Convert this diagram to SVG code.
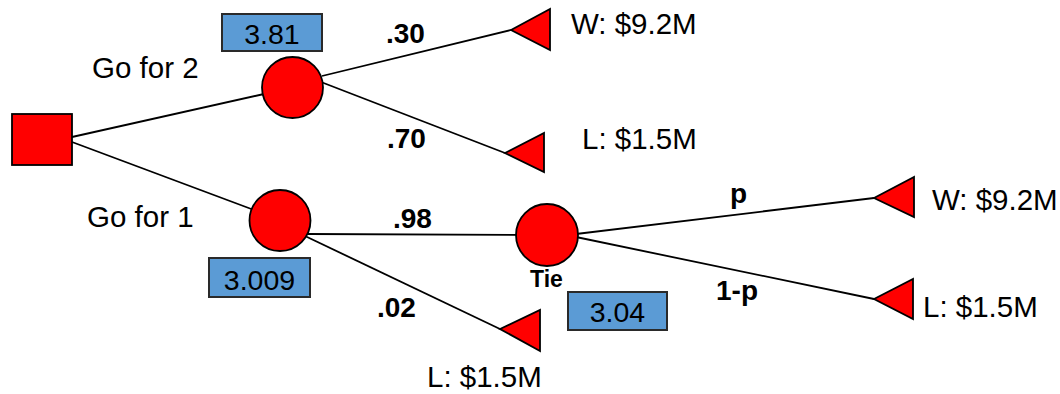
<svg xmlns="http://www.w3.org/2000/svg" width="1060" height="394" viewBox="0 0 1060 394">
<style>
.edge{stroke:#000;stroke-width:1.8;fill:none}
.node{fill:#ff0000;stroke:#000;stroke-width:1.8}
.val{fill:#5b9bd5;stroke:#2a2a2a;stroke-width:2}
.t{font-family:"Liberation Sans",Arial,sans-serif;font-size:29.5px;fill:#000}
.b{font-family:"Liberation Sans",Arial,sans-serif;font-size:28px;font-weight:bold;fill:#000}
.v{font-family:"Liberation Sans",Arial,sans-serif;font-size:28.5px;fill:#000;text-anchor:middle}
</style>
<rect width="1060" height="394" fill="#fff"/>
<g id="connectors">
<line class="edge" x1="72" y1="137" x2="264" y2="94"/>
<line class="edge" x1="72" y1="142" x2="254" y2="210"/>
<line class="edge" x1="322" y1="76" x2="511" y2="30"/>
<line class="edge" x1="321" y1="82" x2="505" y2="153"/>
<line class="edge" x1="308" y1="234" x2="547" y2="235"/>
<line class="edge" x1="305" y1="236" x2="500" y2="329"/>
<line class="edge" x1="576" y1="234" x2="874" y2="198"/>
<line class="edge" x1="576" y1="237" x2="874" y2="299"/>
</g>
<g id="decision">
<rect class="node" x="12" y="114" width="60" height="51"/>
</g>
<g id="chance-go2">
<circle class="node" cx="292.5" cy="87.5" r="30.5"/>
<rect class="val" x="222" y="14" width="100" height="37"/>
<text class="v" x="272" y="44">3.81</text>
<text class="t" x="92" y="78">Go for 2</text>
</g>
<g id="chance-go1">
<circle class="node" cx="280" cy="220.5" r="30.5"/>
<rect class="val" x="209" y="258" width="101" height="39"/>
<text class="v" x="259.5" y="290">3.009</text>
<text class="t" x="87" y="227">Go for 1</text>
</g>
<g id="chance-tie">
<circle class="node" cx="547" cy="235" r="31"/>
<text class="b" x="530" y="287" style="font-size:23px">Tie</text>
<rect class="val" x="568" y="292" width="99" height="38"/>
<text class="v" x="617.5" y="322">3.04</text>
</g>
<g id="end-w1">
<polygon class="node" points="511,30 550,9 550,50"/>
<text class="t" x="571" y="34">W: $9.2M</text>
</g>
<g id="end-l1">
<polygon class="node" points="505,153 544,133 544,172"/>
<text class="t" x="582" y="149">L: $1.5M</text>
</g>
<g id="end-l2">
<polygon class="node" points="500,329 540,310 540,351"/>
<text class="t" x="427" y="387">L: $1.5M</text>
</g>
<g id="end-w3">
<polygon class="node" points="874,198 914,177 914,217"/>
<text class="t" x="932" y="210">W: $9.2M</text>
</g>
<g id="end-l3">
<polygon class="node" points="874,299 913,279 913,319"/>
<text class="t" x="923" y="317">L: $1.5M</text>
</g>
<g id="labels">
<text class="b" x="386" y="43">.30</text>
<text class="b" x="387" y="148">.70</text>
<text class="b" x="393" y="228">.98</text>
<text class="b" x="377" y="317">.02</text>
<text class="b" x="730" y="203">p</text>
<text class="b" x="716" y="300">1-p</text>
</g>
</svg>
